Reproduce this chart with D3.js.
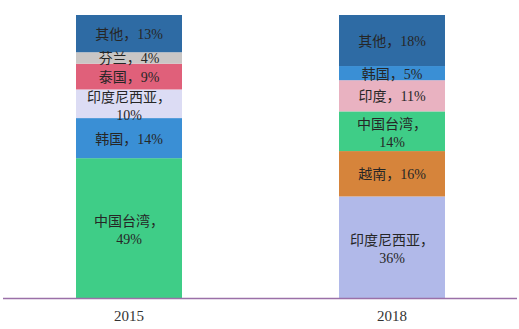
<!DOCTYPE html>
<html>
<head>
<meta charset="utf-8">
<script src="https://cdn.jsdelivr.net/npm/d3@7/dist/d3.min.js"></script>
<style>
  html, body { margin: 0; padding: 0; background: #fff; }
  svg { display: block; }
  text { font-family: "Liberation Serif", "Noto Sans CJK SC", serif; }
</style>
</head>
<body>
<svg id="chart" width="519" height="329"></svg>
<script>
// Share of each source by year (bottom segment first)
const years = ["2015", "2018"];
const categories2015 = ["中国台湾", "韩国", "印度尼西亚", "泰国", "芬兰", "其他"];
const values2015 = [49, 14, 10, 9, 4, 13];
const categories2018 = ["印度尼西亚", "越南", "中国台湾", "印度", "韩国", "其他"];
const values2018 = [36, 16, 14, 11, 5, 18];

const colors2015 = ["#3fcd87", "#3a8fd5", "#dcdcf4", "#e0607a", "#c9c6c5", "#2e6ba4"];
const colors2018 = ["#b1b9e9", "#d6843b", "#3fcd87", "#e9b2c1", "#3a8fd5", "#2e6ba4"];

const plotTop = 15, baseline = 298.5;
const svg = d3.select("#chart");

const x = d3.scaleBand().domain(years).range([76, 445]).paddingInner(0.597).paddingOuter(0);

const bars = [
  { year: "2015", cats: categories2015, vals: values2015, cols: colors2015 },
  { year: "2018", cats: categories2018, vals: values2018, cols: colors2018 }
];

// labels that wrap the percentage onto a second line
const twoLine = new Set(["印度尼西亚", "中国台湾"]);

bars.forEach(b => {
  const total = d3.sum(b.vals);
  const y = d3.scaleLinear().domain([0, total]).range([baseline, plotTop]);
  let acc = 0;
  const segs = b.vals.map((v, i) => {
    const s = { cat: b.cats[i], v, y0: acc, y1: acc + v, col: b.cols[i] };
    acc += v;
    return s;
  });
  const g = svg.append("g");
  g.selectAll("rect").data(segs).join("rect")
    .attr("x", x(b.year))
    .attr("width", x.bandwidth())
    .attr("y", d => y(d.y1))
    .attr("height", d => y(d.y0) - y(d.y1))
    .attr("fill", d => d.col);

  const cx = x(b.year) + x.bandwidth() / 2;
  segs.forEach(d => {
    const cy = (y(d.y0) + y(d.y1)) / 2;
    const t = g.append("text")
      .attr("x", cx)
      .attr("text-anchor", "middle")
      .attr("font-size", 14)
      .attr("fill", "#262626");
    if (twoLine.has(d.cat)) {
      t.append("tspan").attr("x", cx).attr("y", cy - 2).text(d.cat + "，");
      t.append("tspan").attr("x", cx).attr("y", cy + 16).text(d.v + "%");
    } else {
      t.attr("y", cy + 5.5).text(d.cat + "，" + d.v + "%");
    }
  });
});

// category axis along the baseline
const axis = svg.append("g")
  .attr("transform", `translate(0,${baseline})`)
  .call(d3.axisBottom(x).tickSize(0).tickPadding(12));
axis.select(".domain").remove();
axis.append("line")
  .attr("x1", 3).attr("x2", 517)
  .attr("stroke", "#9b70a8").attr("stroke-width", 1.5);
axis.selectAll(".tick text")
  .attr("font-size", 15)
  .attr("fill", "#333")
  .style("font-family", "'Liberation Serif', serif");
</script>
</body>
</html>
